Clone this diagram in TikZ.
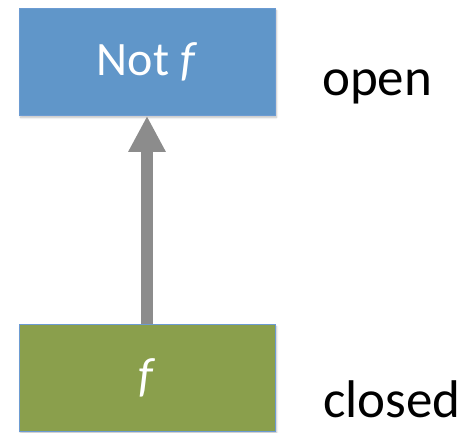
\documentclass[tikz,border=0pt]{standalone}
\usepackage{fontspec}
\setmainfont{Carlito}
\usetikzlibrary{arrows.meta,shadows.blur}
\definecolor{boxblue}{HTML}{6096C9}
\definecolor{boxgreen}{HTML}{8A9F4C}
\definecolor{edgeblue}{HTML}{6C9BD2}
\definecolor{arrowgray}{HTML}{8C8C8C}
\newcommand{\boxtext}[1]{\raisebox{-3pt}{#1}}
\tikzset{
  statebox/.style={draw=edgeblue, line width=0.8pt, minimum width=256pt, minimum height=107pt,
    inner sep=0pt, text=white, font=\fontsize{48}{52}\selectfont,
    blur shadow={shadow xshift=1.5pt, shadow yshift=-2.5pt, shadow blur steps=6, shadow opacity=25}},
  sidelabel/.style={anchor=base west, inner sep=0pt, font=\fontsize{53}{58}\selectfont},
  flow/.style={arrowgray, line width=12pt, -{Triangle[width=35pt,length=36pt]}, shorten >=0.5pt}
}
\begin{document}
\begin{tikzpicture}[x=1pt,y=1pt]
  \useasboundingbox (0,0) rectangle (465,-432);
  \node[statebox, fill=boxblue] (top) at (147,-61.5) {\boxtext{Not \textit{f}}};
  \node[statebox, fill=boxgreen] (bottom) at (147,-377.5) {\boxtext{\textit{f}}};
  \draw[flow] (bottom.north) -- (top.south);
  \node[sidelabel] (open) at (322,-95) {open};
  \node[sidelabel] (closed) at (323,-417) {closed};
\end{tikzpicture}
\end{document}
